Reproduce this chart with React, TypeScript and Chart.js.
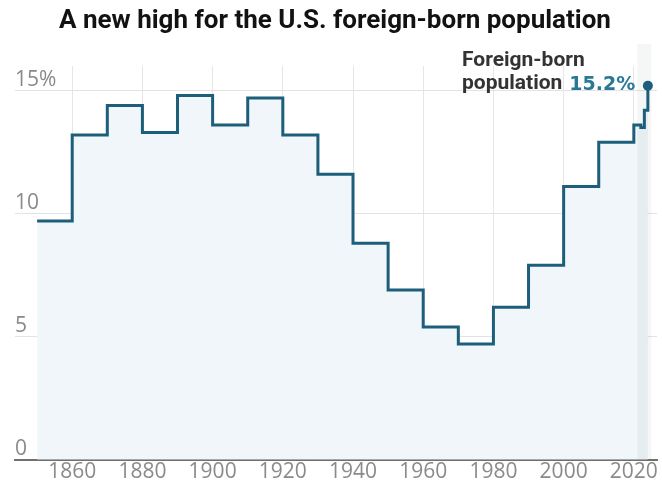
import React, { useEffect, useRef } from 'react';
import { Chart, registerables } from 'chart.js';

Chart.register(...registerables);

const years = [1850, 1860, 1870, 1880, 1890, 1900, 1910, 1920, 1930, 1940, 1950, 1960, 1970, 1980, 1990, 2000, 2010, 2020, 2021, 2022, 2023, 2024];
const shares = [9.7, 13.2, 14.4, 13.3, 14.8, 13.6, 14.7, 13.2, 11.6, 8.8, 6.9, 5.4, 4.7, 6.2, 7.9, 11.1, 12.9, 13.6, 13.6, 13.5, 14.2, 15.2];
const xTickYears = [1860, 1880, 1900, 1920, 1940, 1960, 1980, 2000, 2020];
const yTickValues = [0, 5, 10, 15];
const yTickLabels = ['0', '5', '10', '15%'];
const titleText = 'A new high for the U.S. foreign-born population';
const noteLine1 = 'Foreign-born';
const noteLine2 = 'population';
const latestLabel = '15.2%';
const bandYears = [2021, 2025];

const LINE = '#1d5e7b';
const ACCENT = '#2b7896';

export default function App() {
  const ref = useRef<HTMLCanvasElement | null>(null);

  useEffect(() => {
    document.body.style.margin = '0';
    const canvas = ref.current;
    if (!canvas) return;
    const last = years.length - 1;

    const decor = {
      id: 'decor',
      beforeDatasetsDraw(chart: any) {
        const { ctx, chartArea, scales } = chart;
        const x1 = scales.x.getPixelForValue(bandYears[0]);
        const x2 = scales.x.getPixelForValue(bandYears[1]);
        ctx.save();
        ctx.fillStyle = 'rgba(60,70,80,0.05)';
        ctx.fillRect(x1, chartArea.top - 22, x2 - x1, chartArea.bottom - chartArea.top + 22);
        ctx.restore();
      },
      afterDraw(chart: any) {
        const { ctx } = chart;
        ctx.save();
        ctx.fillStyle = '#121212';
        ctx.font = 'bold 26px Roboto';
        ctx.textAlign = 'center';
        ctx.textBaseline = 'middle';
        ctx.fillText(titleText, 335, 21);

        ctx.textAlign = 'left';
        ctx.font = 'bold 21px Roboto';
        ctx.fillStyle = '#333';
        ctx.fillText(noteLine1, 462, 61);
        ctx.fillText(noteLine2, 462, 84);
        const w = ctx.measureText(noteLine2).width;
        ctx.font = 'bold 19px "DejaVu Sans"';
        ctx.fillStyle = ACCENT;
        ctx.fillText(latestLabel, 462 + w + 7, 85);
        ctx.restore();
      },
    };

    const chart = new Chart(canvas, {
      type: 'line',
      data: {
        datasets: [
          {
            data: years.map((x, i) => ({ x, y: shares[i] })),
            stepped: true,
            borderColor: LINE,
            borderWidth: 3,
            fill: 'origin',
            backgroundColor: '#f0f6f9',
            pointRadius: (c: any) => (c.dataIndex === last ? 5 : 0),
            pointHoverRadius: 0,
            pointBackgroundColor: LINE,
            pointBorderWidth: 0,
            clip: false as any,
          },
        ],
      },
      options: {
        animation: false,
        responsive: false,
        devicePixelRatio: 1,
        layout: { padding: { top: 66, left: 15, right: 0, bottom: 0 } },
        plugins: {
          legend: { display: false },
          tooltip: { enabled: false },
          filler: { drawTime: 'beforeDatasetsDraw' } as any,
        },
        scales: {
          x: {
            type: 'linear',
            min: 1843.7,
            max: 2026.6,
            afterBuildTicks: (s: any) => {
              s.ticks = xTickYears.map((value) => ({ value }));
            },
            grid: { color: '#e6e6e6', lineWidth: 1, drawTicks: false },
            border: { display: true, color: '#707070', width: 2 },
            ticks: {
              color: '#8a8a8a',
              font: { family: 'Open Sans', size: 21 },
              padding: 0,
              maxRotation: 0,
              autoSkip: false,
              callback: (v: any) => String(v),
            },
          },
          y: {
            min: 0,
            max: 16,
            afterBuildTicks: (s: any) => {
              s.ticks = yTickValues.map((value) => ({ value }));
            },
            grid: { color: '#e3e3e3', lineWidth: 1, drawTicks: false },
            border: { display: false },
            ticks: {
              mirror: true,
              padding: 0,
              labelOffset: -11,
              color: '#8a8a8a',
              font: { family: 'Open Sans', size: 21 },
              callback: (v: any) => yTickLabels[yTickValues.indexOf(Number(v))],
            },
          },
        },
      },
      plugins: [decor],
    });
    return () => chart.destroy();
  }, []);

  return <canvas ref={ref} width={662} height={485} style={{ display: 'block', width: 662, height: 485 }} />;
}
